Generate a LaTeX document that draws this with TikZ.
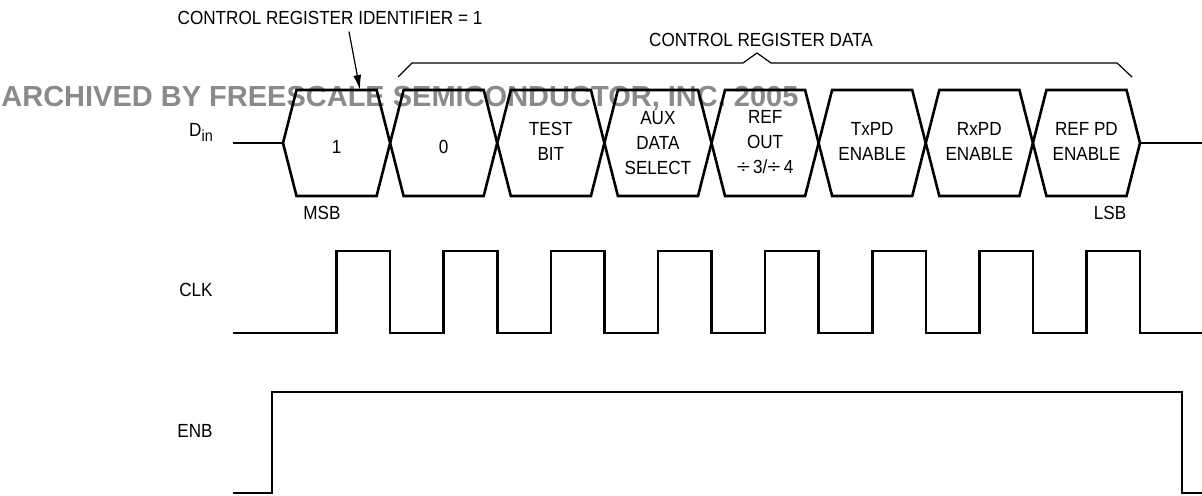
\documentclass[tikz,border=0pt]{standalone}
\usepackage{fontspec}
\setmainfont{Liberation Sans}[FakeStretch=0.9]
\newfontfamily\markfont{Liberation Sans}
\usepackage{graphicx}
\usepackage{tikz}
\usetikzlibrary{arrows.meta,calc}
\definecolor{markgray}{HTML}{8A8A8A}
\tikzset{
  wave/.style={
    line width=1.3pt,
    line join=miter,
    draw=black
  },
  bracket/.style={
    line width=0.6pt,
    draw=black
  },
  pointer/.style={
    -{Latex[length=7.5pt,width=4pt]},
    line width=0.6pt,
    draw=black
  },
  sigtext/.style={
    font=\fontsize{9.5pt}{12.5pt}\selectfont,
    align=center,
    inner sep=1pt
  },
  stamp/.style={
    font=\markfont\bfseries\fontsize{14.5pt}{16pt}\selectfont,
    text=markgray,
    inner sep=0pt
  }
}

\begin{document}
\begin{tikzpicture}[x=0.5pt, y=-0.5pt]
\useasboundingbox (0,0) rectangle (1202,496);

% watermark
\node[stamp, anchor=base west] (stampline) at (1,107) {ARCHIVED BY FREESCALE SEMICONDUCTOR, INC. 2005};

% headings
\node[sigtext, anchor=base] (ident) at (330,25) {CONTROL REGISTER IDENTIFIER = 1};
\node[sigtext, anchor=base] (regdata) at (761,47) {CONTROL REGISTER DATA};
\coordinate (msbtop) at (360,90);
\draw[pointer] ($(ident.south)+(19,4)$) -- (msbtop);
\draw[bracket] (398,77) -- (412,63) -- (743,63) -- (757,53) -- (771,63) -- (1117,63) -- (1132,77);

% signal names
\node[sigtext, anchor=base] (din) at (201,137) {D\raisebox{-2.5pt}{\fontsize{8pt}{8pt}\selectfont in}};
\node[sigtext, anchor=base] (clk) at (196,297) {CLK};
\node[sigtext, anchor=base] (enb) at (195,437) {ENB};

% data bits
\draw[wave] (233,143) -- (283,143);
\draw[wave] (283,143) -- ++(13.5,-53) -- ++(80.1,0) -- ++(13.5,53) -- ++(-13.5,53) -- ++(-80.1,0) -- cycle;
\draw[wave] (390.1,143) -- ++(13.5,-53) -- ++(80.1,0) -- ++(13.5,53) -- ++(-13.5,53) -- ++(-80.1,0) -- cycle;
\draw[wave] (497.3,143) -- ++(13.5,-53) -- ++(80.1,0) -- ++(13.5,53) -- ++(-13.5,53) -- ++(-80.1,0) -- cycle;
\draw[wave] (604.4,143) -- ++(13.5,-53) -- ++(80.1,0) -- ++(13.5,53) -- ++(-13.5,53) -- ++(-80.1,0) -- cycle;
\draw[wave] (711.5,143) -- ++(13.5,-53) -- ++(80.1,0) -- ++(13.5,53) -- ++(-13.5,53) -- ++(-80.1,0) -- cycle;
\draw[wave] (818.6,143) -- ++(13.5,-53) -- ++(80.1,0) -- ++(13.5,53) -- ++(-13.5,53) -- ++(-80.1,0) -- cycle;
\draw[wave] (925.8,143) -- ++(13.5,-53) -- ++(80.1,0) -- ++(13.5,53) -- ++(-13.5,53) -- ++(-80.1,0) -- cycle;
\draw[wave] (1032.9,143) -- ++(13.5,-53) -- ++(80.1,0) -- ++(13.5,53) -- ++(-13.5,53) -- ++(-80.1,0) -- cycle;
\draw[wave] (1140,143) -- (1202,143);

\node[sigtext] (bitone) at (336.6,147) {1};
\node[sigtext] (bitzero) at (443.7,147) {0};
\node[sigtext] (bittest) at (550.8,141.5) {TEST\\BIT};
\node[sigtext] (bitaux) at (657.9,143) {AUX\\DATA\\SELECT};
\node[sigtext] (bitref) at (765.1,142.5) {REF\\OUT\\\scalebox{1.4}[1]{÷}\,3/\scalebox{1.4}[1]{÷}\,4};
\node[sigtext] (bittx) at (872.2,141.5) {TxPD\\ENABLE};
\node[sigtext] (bitrx) at (979.3,141.5) {RxPD\\ENABLE};
\node[sigtext] (bitrefpd) at (1086.4,141.5) {REF PD\\ENABLE};
\node[sigtext, anchor=base] (msb) at (322,220) {MSB};
\node[sigtext, anchor=base] (lsb) at (1110,220) {LSB};

% clock
\draw[wave] (233,333) -- (336.6,333) |- (390.1,251) |- (443.7,333) |- (497.3,251)
  |- (550.8,333) |- (604.4,251) |- (657.9,333) |- (711.5,251) |- (765.1,333)
  |- (818.6,251) |- (872.2,333) |- (925.8,251) |- (979.3,333) |- (1032.9,251)
  |- (1086.4,333) |- (1140,251) |- (1202,333);

% enable
\draw[wave] (233,493) -| (272,392) -| (1182,493) -- (1202,493);
\end{tikzpicture}
\end{document}
